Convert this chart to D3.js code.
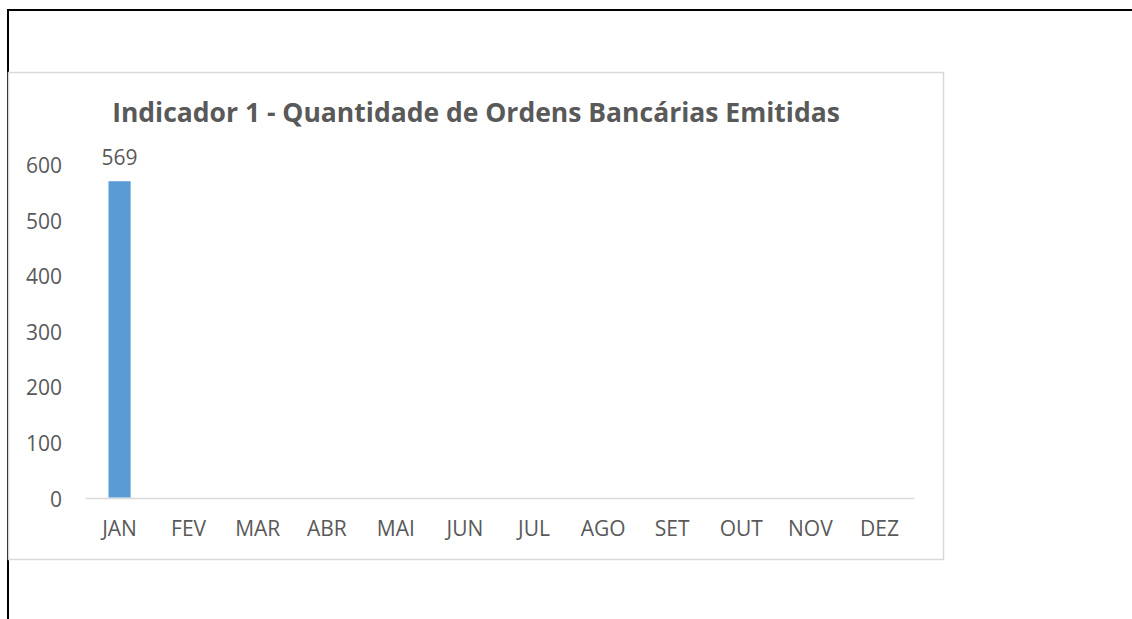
<!DOCTYPE html>
<html>
<head>
<meta charset="utf-8">
<script src="https://cdn.jsdelivr.net/npm/d3@7"></script>
<style>
  html, body { margin: 0; padding: 0; background: #fff; }
  svg { display: block; }
  text { font-family: "Open Sans", sans-serif; fill: #595959; }
</style>
</head>
<body>
<svg id="chart" width="1132" height="619"></svg>
<script>
const titleText = "Indicador 1 - Quantidade de Ordens Bancárias Emitidas";
const months = ["JAN", "FEV", "MAR", "ABR", "MAI", "JUN", "JUL", "AGO", "SET", "OUT", "NOV", "DEZ"];
const values = [569, null, null, null, null, null, null, null, null, null, null, null];
const yTicks = [0, 100, 200, 300, 400, 500, 600];

const svg = d3.select("#chart");

// page border lines (document table lines)
svg.append("line").attr("x1", 7).attr("x2", 1132).attr("y1", 10).attr("y2", 10)
  .attr("stroke", "#000").attr("stroke-width", 2);
svg.append("line").attr("x1", 8).attr("x2", 8).attr("y1", 9).attr("y2", 619)
  .attr("stroke", "#000").attr("stroke-width", 2);

// chart frame
svg.append("rect").attr("x", 8.5).attr("y", 72.5).attr("width", 935).attr("height", 487)
  .attr("fill", "#fff").attr("stroke", "#d9d9d9").attr("stroke-width", 1.5);

const x = d3.scaleBand().domain(months).range([85, 914]).paddingInner(0.68).paddingOuter(0.34);
const y = d3.scaleLinear().domain([0, 600]).range([497.5, 164]);

// title
svg.append("text").attr("x", 476).attr("y", 122).attr("text-anchor", "middle")
  .style("font-size", "26.5px").style("font-weight", "bold").text(titleText);

// y axis labels
const yAxis = d3.axisLeft(y).tickValues(yTicks).tickSize(0).tickPadding(0);
const gy = svg.append("g").attr("transform", "translate(62,0)").call(yAxis);
gy.select(".domain").remove();
gy.selectAll("text").attr("x", 0).attr("dy", null).attr("y", 8.5)
  .style("font-size", "21px").style("font-family", "'Open Sans', sans-serif").attr("fill", "#595959");

// x axis
const xAxis = d3.axisBottom(x).tickSize(0).tickPadding(0);
const gx = svg.append("g").attr("transform", "translate(0,498)").call(xAxis);
gx.select(".domain").attr("stroke", "#d9d9d9").attr("stroke-width", 1.5);
gx.selectAll("text").attr("dy", null).attr("y", 37.5)
  .style("font-size", "21px").style("font-family", "'Open Sans', sans-serif").attr("fill", "#595959");

// bars
const data = months.map((m, i) => ({ m, v: values[i] })).filter(d => d.v != null);
svg.append("g").selectAll("rect").data(data).join("rect")
  .attr("x", d => x(d.m)).attr("width", x.bandwidth())
  .attr("y", d => y(d.v)).attr("height", d => y(0) - y(d.v))
  .attr("fill", "#5b9bd5");

// data labels
svg.append("g").selectAll("text").data(data).join("text")
  .attr("x", d => x(d.m) + x.bandwidth() / 2).attr("y", d => y(d.v) - 16)
  .attr("text-anchor", "middle").style("font-size", "21px").text(d => d.v);
</script>
</body>
</html>
